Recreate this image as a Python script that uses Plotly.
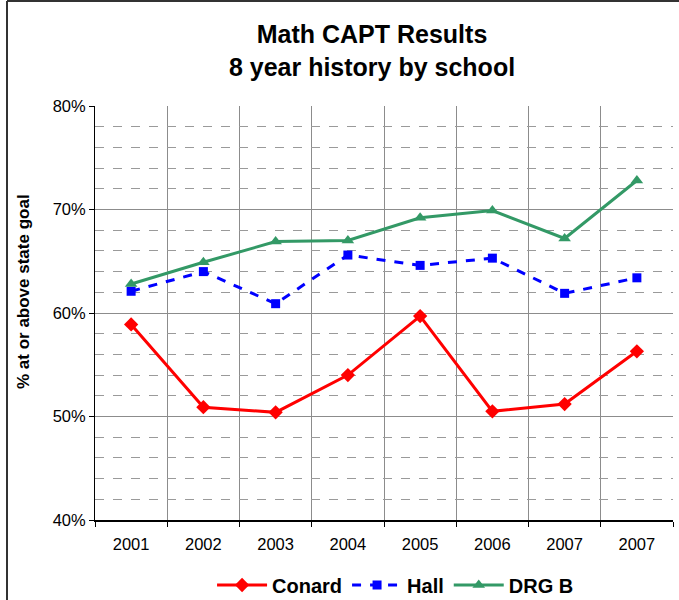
import plotly.graph_objects as go

# categories (the source has 2007 twice)
years = ["2001", "2002", "2003", "2004", "2005", "2006", "2007", "2007"]
conard = [58.9, 50.9, 50.4, 54.0, 59.7, 50.5, 51.2, 56.3]
hall = [62.1, 64.0, 60.9, 65.6, 64.6, 65.3, 61.9, 63.4]
drg_b = [62.8, 64.9, 66.9, 67.0, 69.2, 69.9, 67.2, 72.8]
ytick_vals = [40, 50, 60, 70, 80]
ytick_text = ["40%", "50%", "60%", "70%", "80%"]

xpos = list(range(len(years)))
font = "Liberation Sans, Arial, sans-serif"

fig = go.Figure()
fig.add_trace(go.Scatter(
    x=xpos, y=conard, name="<b>Conard</b>", mode="lines+markers",
    line=dict(color="#FF0000", width=3),
    marker=dict(symbol="diamond", size=11, color="#FF0000")))
fig.add_trace(go.Scatter(
    x=xpos, y=hall, name="<b>Hall</b>", mode="lines+markers",
    line=dict(color="#0000FF", width=3, dash="dash"),
    marker=dict(symbol="square", size=9, color="#0000FF")))
fig.add_trace(go.Scatter(
    x=xpos, y=drg_b, name="<b>DRG B</b>", mode="lines+markers",
    line=dict(color="#339966", width=3),
    marker=dict(symbol="triangle-up", size=11, color="#339966")))

fig.update_layout(
    width=679, height=600,
    margin=dict(l=95, r=6, t=106, b=80, autoexpand=False),
    paper_bgcolor="white", plot_bgcolor="white",
    font=dict(family=font, color="black"),
    title=dict(text="<b>Math CAPT Results<br>8 year history by school</b>",
               x=372 / 679, xanchor="center", y=1 - 43 / 600, yanchor="middle",
               font=dict(size=25)),
    showlegend=True,
    legend=dict(orientation="h", x=0.52, xanchor="center", y=-0.157, yanchor="middle",
                font=dict(size=20, family=font), traceorder="normal",
                itemwidth=50),
)

fig.update_xaxes(
    range=[-0.5, 7.5], tickvals=xpos, ticktext=years, ticks="", showgrid=False,
    tickfont=dict(size=16.5), zeroline=False, ticklabelstandoff=8,
    showline=True, linecolor="black", linewidth=2,
    minor=dict(tickvals=[i - 0.5 for i in range(9)], ticks="outside", ticklen=5,
               tickcolor="black", showgrid=True, gridcolor="#8c8c8c", gridwidth=1),
)
fig.update_yaxes(
    range=[40, 80], tickvals=ytick_vals, ticktext=ytick_text,
    ticks="outside", ticklen=5, tickcolor="black", tickfont=dict(size=16.5),
    showgrid=True, gridcolor="#8c8c8c", gridwidth=1, zeroline=False,
    showline=True, linecolor="black", linewidth=1, ticklabelstandoff=0,
    minor=dict(dtick=2, showgrid=True, gridcolor="#9a9a9a", griddash="dash",
               gridwidth=1),
)

fig.add_annotation(
    text="<b>% at or above state goal</b>", textangle=-90,
    xref="paper", yref="paper", x=(23 - 95) / 578, y=(520 - 292) / 414,
    xanchor="center", yanchor="middle",
    showarrow=False, font=dict(size=17))

# outer chart frame (left and top edges)
fig.add_shape(type="line", xref="paper", yref="paper",
              x0=(7 - 95) / 578, x1=(7 - 95) / 578, y0=-0.3, y1=(520 - 1) / 414,
              line=dict(color="#333333", width=2))
fig.add_shape(type="line", xref="paper", yref="paper",
              x0=(7 - 95) / 578, x1=1.02, y0=(520 - 1) / 414, y1=(520 - 1) / 414,
              line=dict(color="#333333", width=2))

fig.write_html("out.html", config={"displayModeBar": False},
               post_script="document.body.style.margin='0';")
